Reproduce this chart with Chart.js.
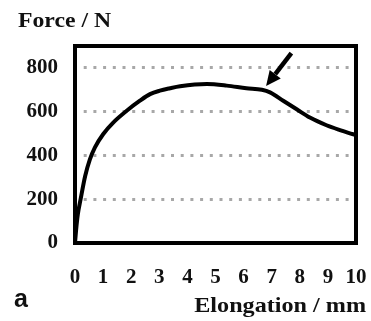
<!DOCTYPE html>
<html>
<head>
<meta charset="utf-8">
<script src="https://cdn.jsdelivr.net/npm/chart.js@4/dist/chart.umd.min.js"></script>
<style>
  html, body { margin: 0; padding: 0; background: #fff; }
  #wrap { width: 371px; height: 321px; }
</style>
</head>
<body>
<div id="wrap"><canvas id="force-chart"></canvas></div>
<script>
/****************** DATA **********************/

// elongation (mm) and force (N)
var elongation = [0, 0.04, 0.1, 0.2, 0.36, 0.53, 0.71, 1.0, 1.36, 1.84, 2.31, 2.67, 3.02, 3.38, 3.74, 4.69, 5.4, 6.1, 6.65, 6.94, 7.41, 7.89, 8.36, 8.95, 9.43, 9.9, 10];
var force      = [0, 60, 130, 200, 305, 382, 437, 497, 550, 604, 650, 680, 696, 707, 716, 726, 719, 707, 700, 688, 650, 611, 573, 538, 516, 497, 494];

var xTicks = [0, 1, 2, 3, 4, 5, 6, 7, 8, 9, 10];
var yTicks = [0, 200, 400, 600, 800];

// arrow pointing at the curve (tail -> tip), in data units
var arrowTail = [7.7, 867];
var arrowTip  = [6.8, 717];

var yLabel = 'Force / N';
var xLabel = 'Elongation / mm';
var panelLetter = 'a';

/****************** CHART **********************/

var serif = '"Liberation Serif", "Times New Roman", serif';

// draws text slightly stretched, like the scanned figure
function wideText(ctx, text, x, y, align, stretch)
{
    ctx.save();
    ctx.translate(x, y);
    ctx.scale(stretch, 1);
    ctx.textAlign = align;
    ctx.fillText(text, 0, 0);
    ctx.restore();
}

var framePlugin = {
    id: 'frame',
    afterDraw: function (chart) {
        var ctx = chart.ctx;
        var a = chart.chartArea;
        var xs = chart.scales.x, ys = chart.scales.y;

        // box around the plot
        ctx.save();
        ctx.strokeStyle = '#000';
        ctx.lineWidth = 4;
        ctx.strokeRect(a.left, a.top, a.right - a.left, a.bottom - a.top);

        // arrow
        var x0 = xs.getPixelForValue(arrowTail[0]), y0 = ys.getPixelForValue(arrowTail[1]);
        var x1 = xs.getPixelForValue(arrowTip[0]),  y1 = ys.getPixelForValue(arrowTip[1]);
        var ang = Math.atan2(y1 - y0, x1 - x0);
        var headLen = 15, headW = 7;
        var bx = x1 - headLen * Math.cos(ang), by = y1 - headLen * Math.sin(ang);
        ctx.lineWidth = 4.5;
        ctx.lineCap = 'butt';
        ctx.beginPath();
        ctx.moveTo(x0, y0);
        ctx.lineTo(bx, by);
        ctx.stroke();
        ctx.fillStyle = '#000';
        ctx.beginPath();
        ctx.moveTo(x1, y1);
        ctx.lineTo(bx + headW * Math.sin(ang), by - headW * Math.cos(ang));
        ctx.lineTo(bx - headW * Math.sin(ang), by + headW * Math.cos(ang));
        ctx.closePath();
        ctx.fill();

        // texts
        ctx.fillStyle = '#111';
        ctx.textBaseline = 'alphabetic';
        ctx.font = 'bold 21px ' + serif;
        wideText(ctx, yLabel, 18, a.top - 19, 'left', 1.13);
        wideText(ctx, xLabel, a.right + 10, a.bottom + 69, 'right', 1.15);
        ctx.font = 'bold 25px "Liberation Sans", Arial, sans-serif';
        wideText(ctx, panelLetter, 14, a.bottom + 64, 'left', 1);
        ctx.restore();
    }
};

var ctx = document.getElementById('force-chart').getContext('2d');
var chart = new Chart(ctx, {
    type: 'line',
    data: {
        labels: elongation,
        datasets: [{
            data: elongation.map(function (x, i) { return { x: x, y: force[i] }; }),
            borderColor: '#000',
            borderWidth: 4,
            pointRadius: 0,
            fill: false,
            cubicInterpolationMode: 'monotone'
        }]
    },
    options: {
        responsive: true,
        maintainAspectRatio: false,
        animation: false,
        layout: {
            padding: { left: 0, top: 46, right: 15, bottom: 0 }
        },
        plugins: {
            legend: { display: false },
            tooltip: { enabled: false }
        },
        scales: {
            x: {
                type: 'linear',
                min: 0,
                max: 10,
                afterBuildTicks: function (scale) {
                    scale.ticks = xTicks.map(function (v) { return { value: v }; });
                },
                afterFit: function (scale) {
                    scale.height = 78;
                    scale.paddingRight = 0;
                    scale.paddingLeft = 0;
                },
                grid: { display: false, drawTicks: false },
                border: { display: false },
                ticks: {
                    padding: 22,
                    color: '#111',
                    maxRotation: 0,
                    autoSkip: false,
                    font: { family: serif, size: 21, weight: 'bold' }
                }
            },
            y: {
                min: 0,
                max: 900,
                afterBuildTicks: function (scale) {
                    scale.ticks = yTicks.map(function (v) { return { value: v }; });
                },
                afterFit: function (scale) {
                    scale.width = 75;
                    scale.paddingTop = 0;
                    scale.paddingBottom = 0;
                },
                grid: {
                    color: '#a8a8a8',
                    lineWidth: 3,
                    drawTicks: false
                },
                border: { display: false, dash: [3, 6.7], dashOffset: 1 },
                ticks: {
                    padding: 17,
                    color: '#111',
                    font: { family: serif, size: 21, weight: 'bold' }
                }
            }
        }
    },
    plugins: [framePlugin]
});
</script>
</body>
</html>
